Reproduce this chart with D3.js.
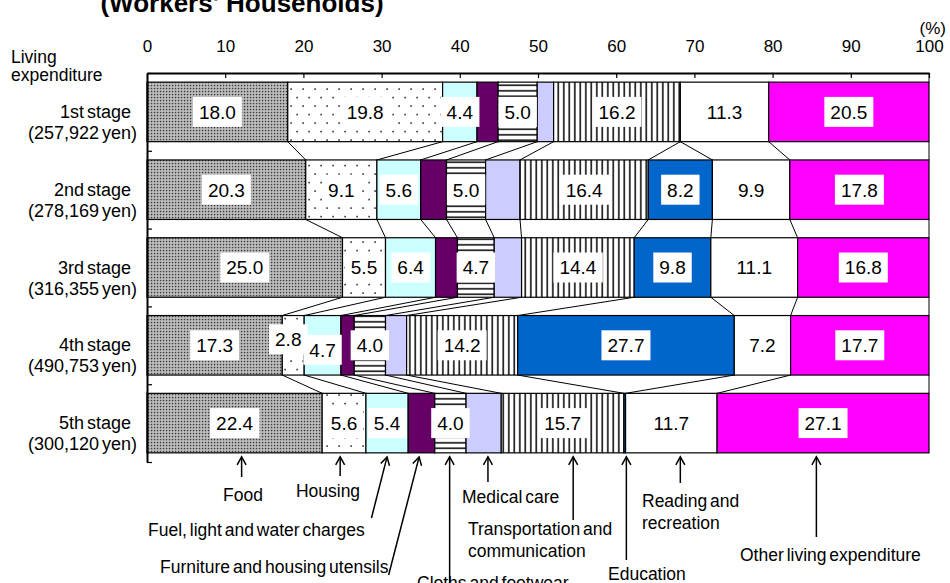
<!DOCTYPE html>
<html>
<head>
<meta charset="utf-8">
<script src="https://cdn.jsdelivr.net/npm/d3@7"></script>
<style>
  html, body { margin: 0; padding: 0; background: #fff; }
  svg { display: block; font-family: "Liberation Sans", Arial, sans-serif; }
</style>
</head>
<body>
<svg id="chart" width="950" height="583"></svg>
<script>
// ---- data -------------------------------------------------------------
const stages  = ["1st stage", "2nd stage", "3rd stage", "4th stage", "5th stage"];
const amounts = ["(257,922 yen)", "(278,169 yen)", "(316,355 yen)", "(490,753 yen)", "(300,120 yen)"];

const categories = ["food", "housing", "fuel", "furniture", "clothes",
                    "medical", "transport", "education", "reading", "other"];

// share of living expenditure (%) per stage
const food      = [18.0, 20.3, 25.0, 17.3, 22.4];
const housing   = [19.8,  9.1,  5.5,  2.8,  5.6];
const fuel      = [ 4.4,  5.6,  6.4,  4.7,  5.4];
const furniture = [ 2.7,  3.3,  2.8,  1.7,  3.4];
const clothes   = [ 5.0,  5.0,  4.7,  4.0,  4.0];
const medical   = [ 2.1,  4.4,  3.5,  2.7,  4.5];
const transport = [16.2, 16.4, 14.4, 14.2, 15.7];
const education = [ 0.0,  8.2,  9.8, 27.7,  0.2];
const reading   = [11.3,  9.9, 11.1,  7.2, 11.7];
const other     = [20.5, 17.8, 16.8, 17.7, 27.1];

const xTicks = [0, 10, 20, 30, 40, 50, 60, 70, 80, 90, 100];

// ---- styling ----------------------------------------------------------
const fills = {
  food: "url(#pFood)", housing: "url(#pHousing)", fuel: "#ccffff",
  furniture: "#660066", clothes: "url(#pHoriz)", medical: "#ccccff",
  transport: "url(#pVert)", education: "#0066cc", reading: "#ffffff", other: "#ff00ff"
};
const labelled = new Set(["food", "housing", "fuel", "clothes", "transport", "education", "reading", "other"]);
// small offsets for labels that would otherwise collide
const labelNudge = { "3|housing": [-5, -6], "3|fuel": [0, 4.5] };

// callouts under the chart: tip/tail x in axis units, text lines and placement
const callouts = [
  { lines: ["Food"], tip: 12.1, tail: 12.1, tailY: 477, anchor: "middle", tx: 243, ty: 501 },
  { lines: ["Housing"], tip: 24.7, tail: 24.7, tailY: 476, anchor: "middle", tx: 328, ty: 497 },
  { lines: ["Fuel, light and water charges"], tip: 30.7, tail: 28.7, tailY: 518, anchor: "start", tx: 148, ty: 536 },
  { lines: ["Furniture and housing utensils"], tip: 34.8, tail: 30.9, tailY: 575, anchor: "start", tx: 160, ty: 573 },
  { lines: ["Cloths and footwear"], tip: 38.7, tail: 38.7, tailY: 583, anchor: "start", tx: 417, ty: 589 },
  { lines: ["Medical care"], tip: 43.6, tail: 43.6, tailY: 482, anchor: "start", tx: 462, ty: 503 },
  { lines: ["Transportation and", "communication"], tip: 54.5, tail: 54.5, tailY: 520, anchor: "start", tx: 468, ty: 535 },
  { lines: ["Education"], tip: 61.3, tail: 61.3, tailY: 560, anchor: "start", tx: 608, ty: 580 },
  { lines: ["Reading and", "recreation"], tip: 68.2, tail: 68.2, tailY: 483, anchor: "start", tx: 642, ty: 507 },
  { lines: ["Other living expenditure"], tip: 85.6, tail: 85.6, tailY: 537, anchor: "start", tx: 740, ty: 561 }
];

// ---- layout -----------------------------------------------------------
const svg = d3.select("#chart");
const plotTop = 73, plotBottom = 462, plotLeft = 147, plotRight = 929;

const x = d3.scaleLinear().domain([0, 100]).range([plotLeft, plotRight]);
const y = d3.scaleBand().domain(stages).range([plotTop, plotBottom])
  .paddingInner(0.235).paddingOuter(0.1175);
const yEdges = d3.scaleLinear().domain([0, stages.length]).range([plotTop, plotBottom]);

const seriesByCat = { food, housing, fuel, furniture, clothes, medical, transport, education, reading, other };
const table = stages.map((s, i) => {
  const row = { stage: s };
  categories.forEach(c => row[c] = seriesByCat[c][i]);
  return row;
});
const stacked = d3.stack().keys(categories)(table);

// ---- patterns ---------------------------------------------------------
const defs = svg.append("defs");
const pf = defs.append("pattern").attr("id", "pFood").attr("patternUnits", "userSpaceOnUse")
  .attr("width", 3).attr("height", 3);
pf.append("rect").attr("width", 3).attr("height", 3).attr("fill", "#c4c4c4");
pf.append("rect").attr("x", 0.8).attr("y", 0.8).attr("width", 1.5).attr("height", 1.5).attr("fill", "#3a3a3a");

const ph = defs.append("pattern").attr("id", "pHousing").attr("patternUnits", "userSpaceOnUse")
  .attr("width", 12).attr("height", 17);
ph.append("rect").attr("width", 12).attr("height", 17).attr("fill", "#fff");
ph.append("rect").attr("x", 2.3).attr("y", 3.3).attr("width", 1.6).attr("height", 1.6).attr("fill", "#333");
ph.append("rect").attr("x", 8.3).attr("y", 11.8).attr("width", 1.6).attr("height", 1.6).attr("fill", "#333");

const pz = defs.append("pattern").attr("id", "pHoriz").attr("patternUnits", "userSpaceOnUse")
  .attr("width", 6).attr("height", 5.5);
pz.append("rect").attr("width", 6).attr("height", 5.5).attr("fill", "#fff");
pz.append("rect").attr("y", 2).attr("width", 6).attr("height", 1.6).attr("fill", "#111");

const pv = defs.append("pattern").attr("id", "pVert").attr("patternUnits", "userSpaceOnUse")
  .attr("width", 5.5).attr("height", 6);
pv.append("rect").attr("width", 5.5).attr("height", 6).attr("fill", "#fff");
pv.append("rect").attr("x", 2).attr("width", 1.6).attr("height", 6).attr("fill", "#111");

// open chevron arrowhead, drawn along the line direction
const arrowHead = defs.append("marker").attr("id", "arrow").attr("viewBox", "0 0 12 12")
  .attr("refX", 10).attr("refY", 6).attr("markerWidth", 12).attr("markerHeight", 12)
  .attr("markerUnits", "userSpaceOnUse").attr("orient", "auto");
arrowHead.append("path").attr("d", "M2,1.5 L10,6 L2,10.5").attr("fill", "none")
  .attr("stroke", "#000").attr("stroke-width", 1.5);

// ---- title ------------------------------------------------------------
svg.append("text").attr("x", 242).attr("y", 11.5).attr("text-anchor", "middle")
  .attr("font-size", 26).attr("font-weight", "bold").text("(Workers' Households)");

// ---- series lines between stages ---------------------------------------
const connectors = [];
for (let i = 0; i < stages.length - 1; i++) {
  const yBottom = y(stages[i]) + y.bandwidth();
  const yTop = y(stages[i + 1]);
  stacked.forEach(layer => {
    connectors.push({ x1: x(layer[i][1]), y1: yBottom, x2: x(layer[i + 1][1]), y2: yTop });
  });
}
svg.append("g").selectAll("line").data(connectors).join("line")
  .attr("x1", d => d.x1).attr("y1", d => d.y1).attr("x2", d => d.x2).attr("y2", d => d.y2)
  .attr("stroke", "#000").attr("stroke-width", 1);
// right-hand edge from axis to the first bar
svg.append("line").attr("x1", x(100)).attr("x2", x(100))
  .attr("y1", plotTop).attr("y2", y(stages[0])).attr("stroke", "#000").attr("stroke-width", 1);

// ---- bars -------------------------------------------------------------
const layers = svg.append("g").selectAll("g").data(stacked).join("g")
  .attr("fill", d => fills[d.key]);
layers.selectAll("rect").data(d => d).join("rect")
  .attr("x", d => x(d[0]))
  .attr("y", d => y(d.data.stage))
  .attr("width", d => Math.max(0, x(d[1]) - x(d[0])))
  .attr("height", y.bandwidth())
  .attr("stroke", "#000").attr("stroke-width", 1.2);

// ---- value labels -----------------------------------------------------
const labels = [];
stacked.forEach(layer => {
  if (!labelled.has(layer.key)) return;
  layer.forEach((d, i) => {
    const v = d[1] - d[0];
    if (v < 1) return;
    const n = labelNudge[i + "|" + layer.key] || [0, 0];
    labels.push({ text: d3.format(".1f")(v), cx: x((d[0] + d[1]) / 2) + n[0],
                  cy: y(d.data.stage) + y.bandwidth() / 2 + n[1] });
  });
});
const lg = svg.append("g").selectAll("g").data(labels).join("g")
  .attr("transform", d => `translate(${d.cx},${d.cy})`);
lg.append("text").attr("text-anchor", "middle").attr("dy", "0.36em")
  .attr("font-size", 19).attr("fill", "#000").text(d => d.text);
lg.each(function () {
  const g = d3.select(this);
  const bb = g.select("text").node().getBBox();
  g.insert("rect", "text").attr("x", bb.x - 6).attr("y", -15).attr("width", bb.width + 12)
    .attr("height", 30).attr("fill", "#fff");
});

// ---- axes -------------------------------------------------------------
const topAxis = svg.append("g").attr("transform", `translate(0,${plotTop})`)
  .call(d3.axisTop(x).tickValues(xTicks).tickSize(-5).tickSizeOuter(0).tickPadding(21));
topAxis.select(".domain").attr("stroke-width", 2);
topAxis.selectAll(".tick line").attr("stroke-width", 1.2);
topAxis.selectAll(".tick text").attr("font-size", 17).attr("font-family", "Liberation Sans, Arial, sans-serif")
  .attr("fill", "#000");

const leftAxis = svg.append("g").attr("transform", `translate(${plotLeft},0)`)
  .call(d3.axisLeft(yEdges).ticks(stages.length).tickSize(-5).tickSizeOuter(0).tickFormat(""));
leftAxis.select(".domain").attr("stroke-width", 2);
leftAxis.selectAll(".tick line").attr("stroke-width", 1.2);

svg.append("text").attr("x", 946).attr("y", 34).attr("text-anchor", "end")
  .attr("font-size", 17).text("(%)");

// ---- stage labels -----------------------------------------------------
svg.append("text").attr("x", 11).attr("y", 63).attr("font-size", 17.5).text("Living");
svg.append("text").attr("x", 11).attr("y", 81).attr("font-size", 17.5).text("expenditure");

const sl = svg.append("g").selectAll("g").data(stages).join("g")
  .attr("transform", s => `translate(0,${y(s) + y.bandwidth() / 2})`);
sl.append("text").attr("x", 131).attr("y", 6).attr("text-anchor", "end")
  .attr("font-size", 18).attr("word-spacing", -2).text(s => s);
sl.append("text").attr("x", 137).attr("y", 27).attr("text-anchor", "end")
  .attr("font-size", 18).attr("word-spacing", -2).text((s, i) => amounts[i]);

// ---- callouts ---------------------------------------------------------
const tipY = y(stages[stages.length - 1]) + y.bandwidth() + 4;
const cg = svg.append("g").selectAll("g").data(callouts).join("g");
cg.append("line")
  .attr("x1", d => x(d.tail)).attr("y1", d => d.tailY)
  .attr("x2", d => x(d.tip)).attr("y2", tipY)
  .attr("stroke", "#000").attr("stroke-width", 1.5).attr("marker-end", "url(#arrow)");
cg.each(function (d) {
  const t = d3.select(this).append("text").attr("font-size", 17.5)
    .attr("text-anchor", d.anchor).attr("word-spacing", -2);
  d.lines.forEach((ln, k) => t.append("tspan").attr("x", d.tx).attr("y", d.ty + k * 21.5).text(ln));
});
</script>
</body>
</html>
